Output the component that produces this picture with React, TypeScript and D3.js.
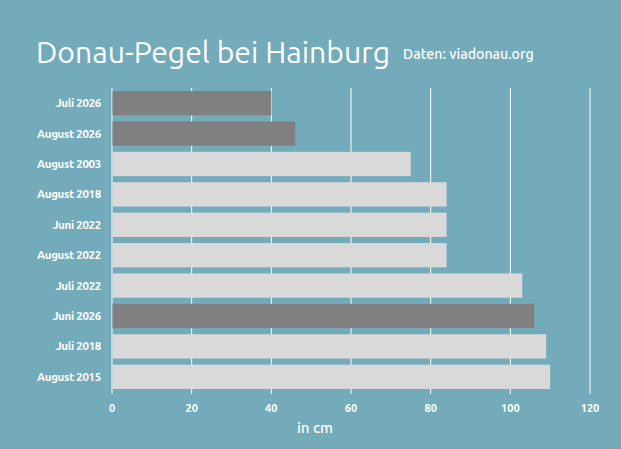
import { useEffect, useRef } from "react"
import * as d3 from "d3"

const categories = [
  "Juli 2026",
  "August 2026",
  "August 2003",
  "August 2018",
  "Juni 2022",
  "August 2022",
  "Juli 2022",
  "Juni 2026",
  "Juli 2018",
  "August 2015",
]
const values = [40, 46, 75, 84, 84, 84, 103, 106, 109, 110]
const highlighted = ["Juli 2026", "August 2026", "Juni 2026"]
const xTicks = [0, 20, 40, 60, 80, 100, 120]

const width = 621
const height = 449
const font = "Ubuntu, 'Open Sans', 'Noto Sans', sans-serif"

export default function App() {
  const svgRef = useRef<SVGSVGElement>(null)

  useEffect(() => {
    const svg = d3.select(svgRef.current)
    svg.selectAll("*").remove()

    const margin = { top: 88, right: 31, bottom: 57, left: 112 }

    const x = d3.scaleLinear().domain([0, 120]).range([margin.left, width - margin.right])
    const y = d3
      .scaleBand<string>()
      .domain(categories)
      .range([margin.top, height - margin.bottom])
      .paddingInner(0.2)
      .paddingOuter(0.1)

    svg.append("rect").attr("width", width).attr("height", height).attr("fill", "#73abbb")

    // Title
    svg.append("text")
      .attr("x", 36)
      .attr("y", 63)
      .attr("fill", "#fff")
      .attr("font-family", font)
      .attr("font-size", 30.2)
      .text("Donau-Pegel bei Hainburg")

    svg.append("text")
      .attr("x", 403)
      .attr("y", 59)
      .attr("fill", "#fff")
      .attr("font-family", font)
      .attr("font-size", 14.2)
      .attr("font-weight", 500)
      .text("Daten: viadonau.org")

    // Grid lines
    svg.append("g")
      .selectAll("line")
      .data(xTicks)
      .join("line")
      .attr("x1", (d) => x(d))
      .attr("x2", (d) => x(d))
      .attr("y1", margin.top)
      .attr("y2", height - margin.bottom + 2)
      .attr("stroke", "#fff")
      .attr("stroke-width", 1)

    // Bars
    svg.append("g")
      .selectAll("rect")
      .data(categories)
      .join("rect")
      .attr("x", x(0) + 0.5)
      .attr("y", (d) => y(d)!)
      .attr("width", (d, i) => x(values[i]) - x(0) - 0.5)
      .attr("height", y.bandwidth())
      .attr("fill", (d) => (highlighted.includes(d) ? "#808080" : "#d9d9d9"))

    // Category labels
    svg.append("g")
      .selectAll("text")
      .data(categories)
      .join("text")
      .attr("x", margin.left - 11)
      .attr("y", (d) => y(d)! + y.bandwidth() / 2)
      .attr("dy", "0.35em")
      .attr("text-anchor", "end")
      .attr("fill", "#fff")
      .attr("font-family", font)
      .attr("font-size", 11.5)
      .attr("font-weight", "bold")
      .attr("letter-spacing", -0.3)
      .text((d) => d)

    // X tick labels
    svg.append("g")
      .selectAll("text")
      .data(xTicks)
      .join("text")
      .attr("x", (d) => x(d))
      .attr("y", 408)
      .attr("dy", "0.35em")
      .attr("text-anchor", "middle")
      .attr("fill", "#fff")
      .attr("font-family", font)
      .attr("font-size", 11)
      .attr("font-weight", "bold")
      .text((d) => d)

    svg.append("text")
      .attr("x", 315)
      .attr("y", 433)
      .attr("text-anchor", "middle")
      .attr("fill", "#fff")
      .attr("font-family", font)
      .attr("font-size", 15)
      .attr("font-weight", 500)
      .text("in cm")
  }, [])

  return (
    <svg
      ref={svgRef}
      width={width}
      height={height}
      style={{ position: "absolute", left: 0, top: 0, display: "block" }}
    />
  )
}
